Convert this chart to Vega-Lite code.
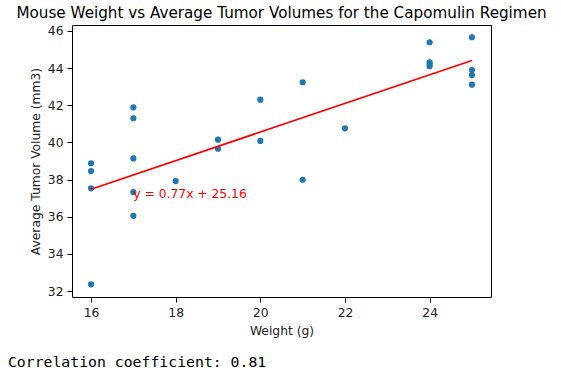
{
  "$schema": "https://vega.github.io/schema/vega-lite/v6.json",
  "padding": {"left": 7, "top": 5, "right": 5, "bottom": 8},
  "title": {
    "text": "Correlation coefficient: 0.81",
    "orient": "bottom",
    "anchor": "start",
    "frame": "bounds",
    "font": "DejaVu Sans Mono",
    "fontSize": 14.8,
    "fontWeight": "normal",
    "color": "#000000",
    "offset": 18,
    "dx": -8
  },
  "vconcat": [
    {
      "width": 419,
      "height": 272,
      "title": {
        "text": "Mouse Weight vs Average Tumor Volumes for the Capomulin Regimen",
        "font": "DejaVu Sans",
        "fontSize": 15.2,
        "fontWeight": "normal",
        "color": "#000000",
        "offset": 4,
        "anchor": "middle"
      },
      "layer": [
        {
          "data": {"values": [
            {"weight": 16, "volume": 38.88}, {"weight": 16, "volume": 38.46}, {"weight": 16, "volume": 37.53}, {"weight": 16, "volume": 32.36},
            {"weight": 17, "volume": 41.89}, {"weight": 17, "volume": 41.30}, {"weight": 17, "volume": 39.14}, {"weight": 17, "volume": 37.33}, {"weight": 17, "volume": 36.05},
            {"weight": 18, "volume": 37.92},
            {"weight": 19, "volume": 40.15}, {"weight": 19, "volume": 39.66},
            {"weight": 20, "volume": 42.30}, {"weight": 20, "volume": 40.08},
            {"weight": 21, "volume": 43.24}, {"weight": 21, "volume": 37.99},
            {"weight": 22, "volume": 40.76},
            {"weight": 24, "volume": 45.39}, {"weight": 24, "volume": 44.31}, {"weight": 24, "volume": 44.20}, {"weight": 24, "volume": 44.10},
            {"weight": 25, "volume": 45.66}, {"weight": 25, "volume": 43.90}, {"weight": 25, "volume": 43.63}, {"weight": 25, "volume": 43.11}
          ]},
          "mark": {"type": "point", "filled": true, "size": 38, "color": "#1f77b4", "opacity": 1},
          "encoding": {
            "x": {"field": "weight", "type": "quantitative", "scale": {"domain": [15.55, 25.45], "nice": false, "zero": false},
              "axis": {"title": "Weight (g)", "values": [16, 18, 20, 22, 24], "format": "d", "tickCount": 10}},
            "y": {"field": "volume", "type": "quantitative", "scale": {"domain": [31.68, 46.32], "nice": false, "zero": false},
              "axis": {"title": "Average Tumor Volume (mm3)", "values": [32, 34, 36, 38, 40, 42, 44, 46], "format": "d", "labelOverlap": false, "tickCount": 10}}
          }
        },
        {
          "data": {"values": [{"weight": 16, "fit": 37.48}, {"weight": 25, "fit": 44.41}]},
          "mark": {"type": "line", "color": "#ff0000", "strokeWidth": 1.8},
          "encoding": {
            "x": {"field": "weight", "type": "quantitative"},
            "y": {"field": "fit", "type": "quantitative"}
          }
        },
        {
          "data": {"values": [{"weight": 17, "volume": 37, "label": "y = 0.77x + 25.16"}]},
          "mark": {"type": "text", "color": "#ff0000", "font": "DejaVu Sans", "fontSize": 12.3, "align": "left", "baseline": "alphabetic"},
          "encoding": {
            "x": {"field": "weight", "type": "quantitative"},
            "y": {"field": "volume", "type": "quantitative"},
            "text": {"field": "label"}
          }
        }
      ]
    }
  ],
  "config": {
    "view": {"stroke": "#000000", "strokeWidth": 1},
    "axis": {
      "domain": false,
      "grid": false,
      "tickColor": "#000000",
      "tickSize": 5,
      "labelFont": "DejaVu Sans",
      "labelFontSize": 12.3,
      "labelColor": "#222222",
      "labelOverlap": false,
      "titleFont": "DejaVu Sans",
      "titleFontSize": 12.3,
      "titleFontWeight": "normal",
      "titleColor": "#222222"
    },
    "axisY": {"titlePadding": 5, "labelPadding": 4},
    "axisX": {"titlePadding": 6, "labelPadding": 4}
  }
}
